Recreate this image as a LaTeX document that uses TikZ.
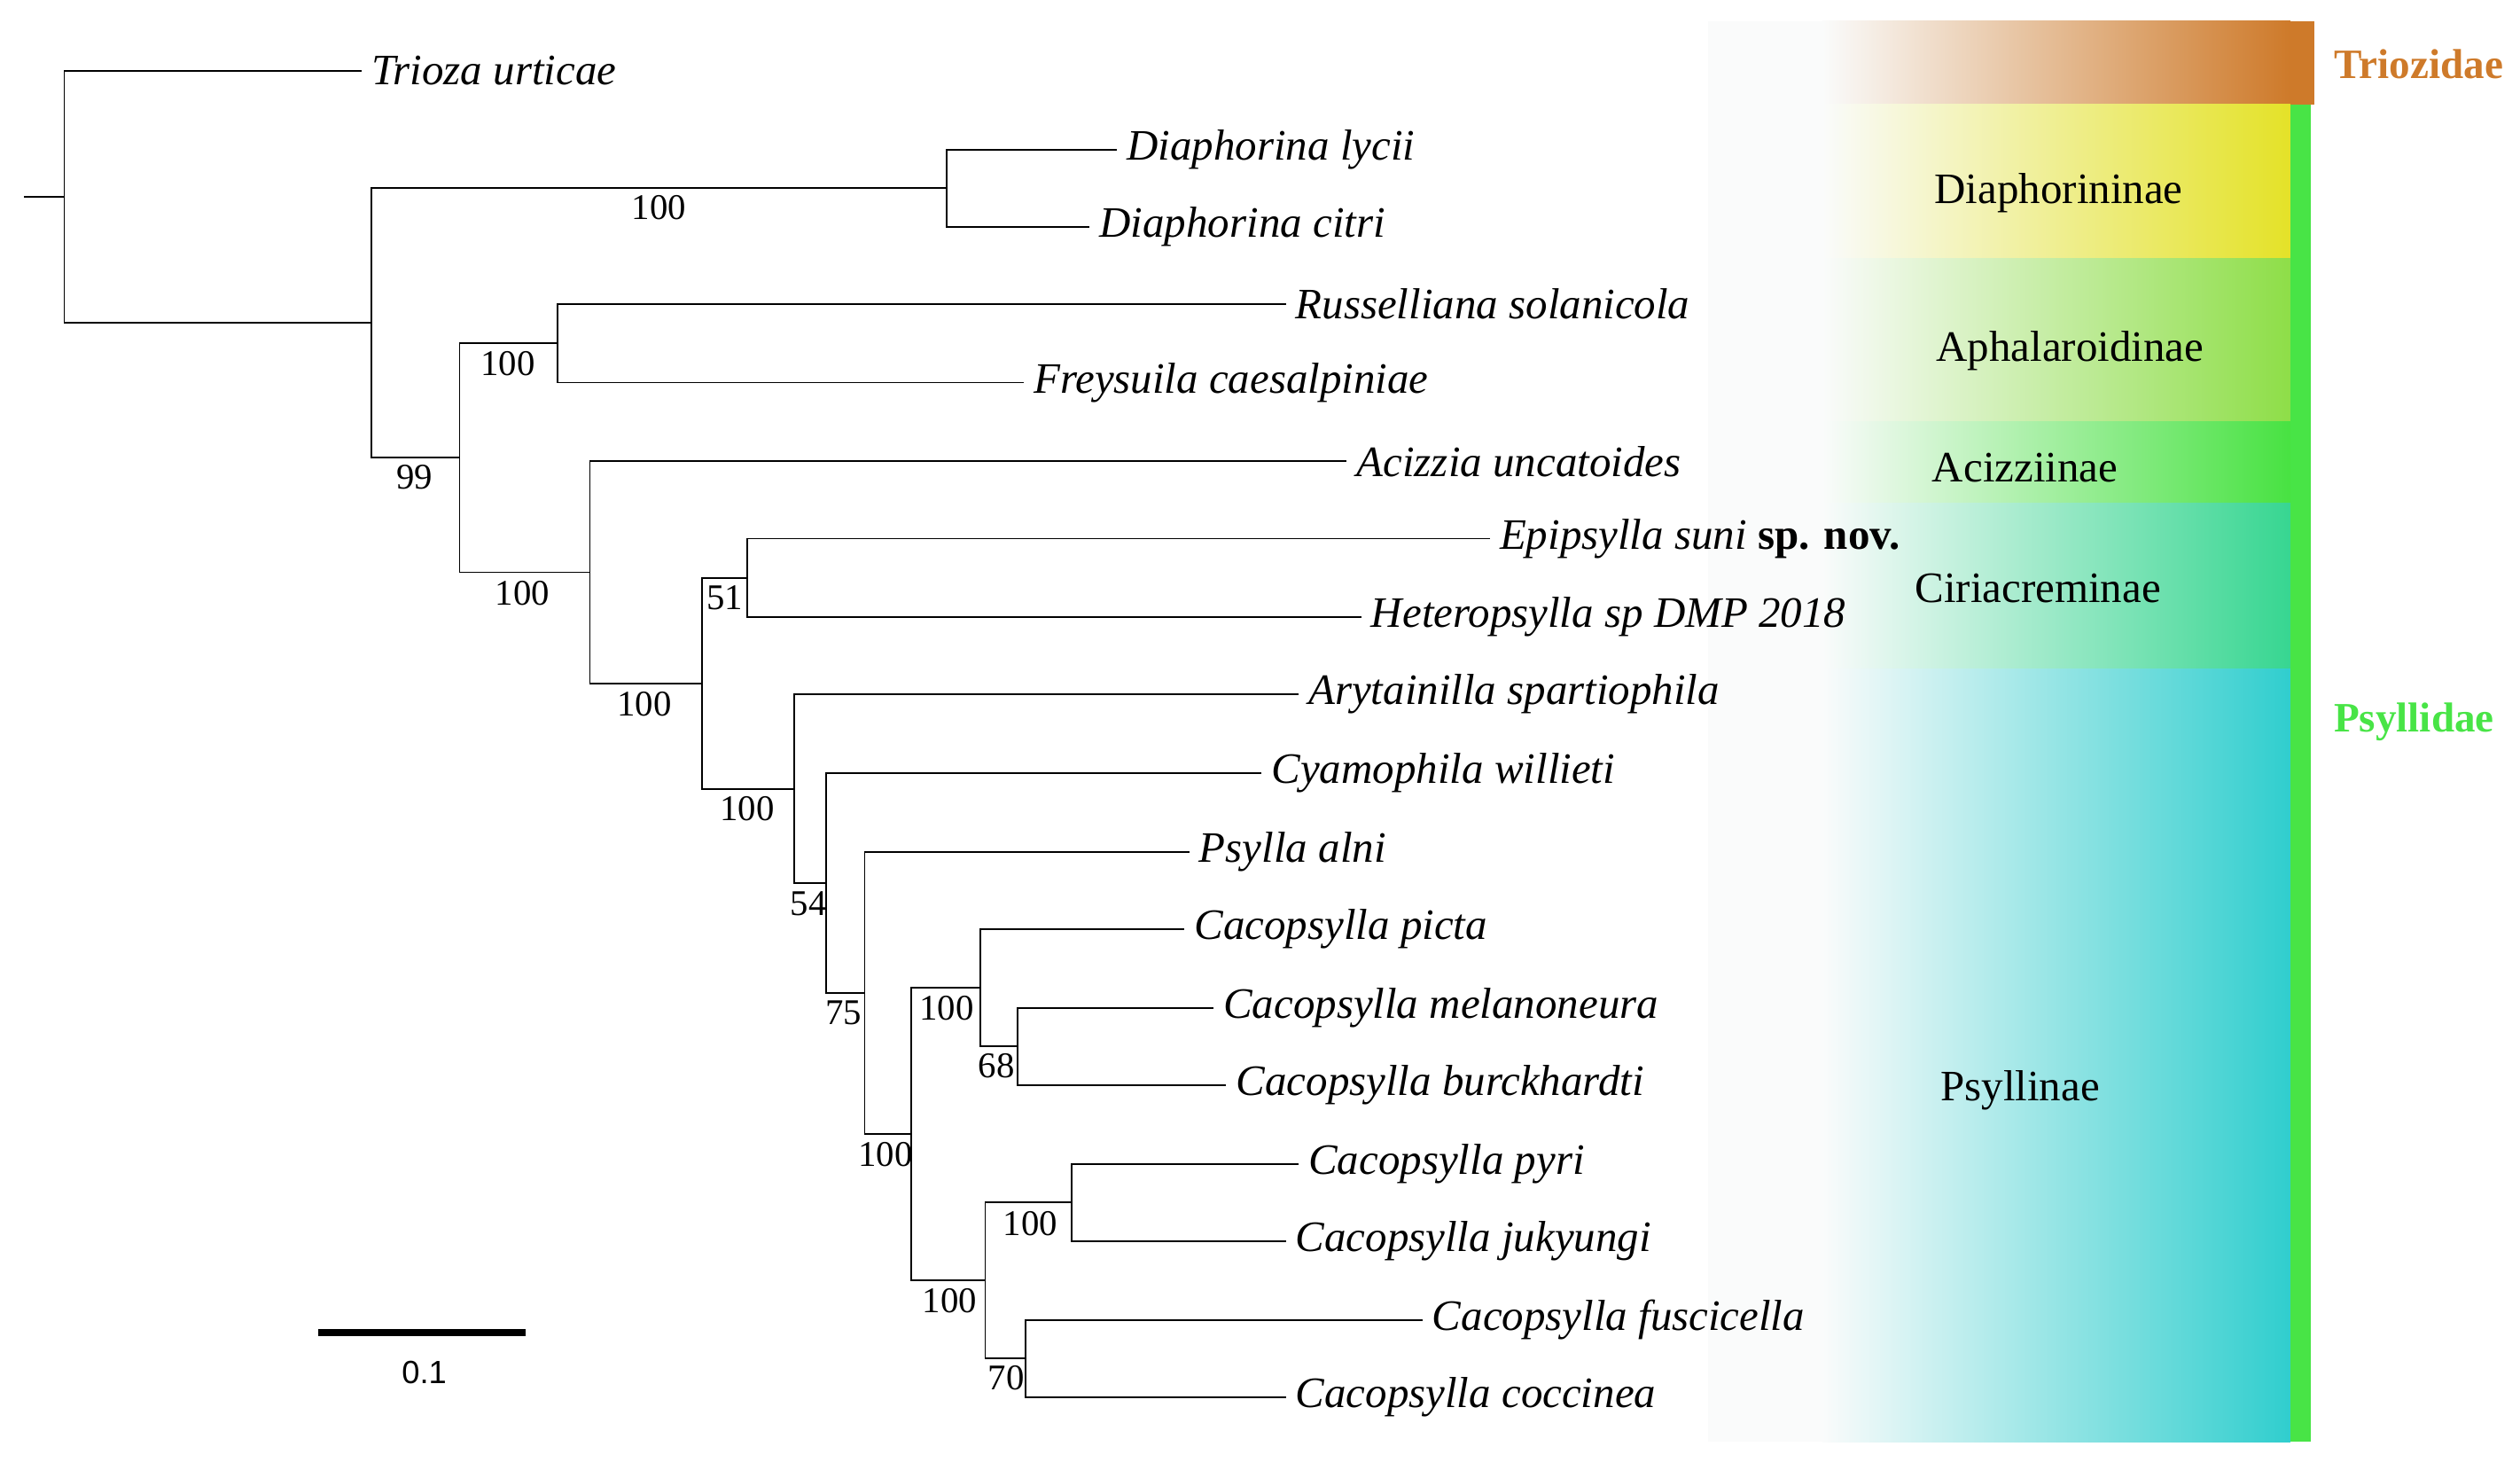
\documentclass[tikz,border=0pt]{standalone}
\usepackage{fontspec}
\setmainfont{Liberation Serif}
\setsansfont{Liberation Sans}
\definecolor{cTrio}{RGB}{206,122,42}
\definecolor{cDia}{RGB}{228,226,40}
\definecolor{cAph}{RGB}{142,222,72}
\definecolor{cAci}{RGB}{72,226,66}
\definecolor{cCiri}{RGB}{55,214,145}
\definecolor{cPsy}{RGB}{48,206,206}
\definecolor{cBar}{RGB}{72,228,70}
\definecolor{cFaint}{RGB}{250,251,251}
\tikzset{
  branch/.style={line width=1pt},
  taxon/.style={anchor=west,inner xsep=6pt,font=\fontsize{27}{30}\selectfont\itshape},
  boot/.style={inner sep=0pt,font=\fontsize{22.5}{25}\selectfont},
  clade/.style={inner sep=0pt,font=\fontsize{27}{30}\selectfont},
  family/.style={inner sep=0pt,font=\fontsize{26}{28}\selectfont\bfseries},
}
\begin{document}
\begin{tikzpicture}[x=1pt,y=1pt,yscale=-1,xscale=1]
\useasboundingbox (0,0) rectangle (1568,914);

%Shape: colour bands
\fill[cFaint] (1063,13) rectangle (1134,897);
\shade[left color=cFaint,right color=cTrio] (1134,13) rectangle (1425,65);
\fill[cTrio] (1425,13) rectangle (1440,65);
\shade[left color=cFaint,right color=cDia] (1134,65) rectangle (1425,161);
\shade[left color=cFaint,right color=cAph] (1134,161) rectangle (1425,262);
\shade[left color=cFaint,right color=cAci] (1134,262) rectangle (1425,313);
\shade[left color=cFaint,right color=cCiri] (1134,313) rectangle (1425,416);
\shade[left color=cFaint,right color=cPsy] (1134,416) rectangle (1425,897);
%Shape: family bar
\fill[cBar] (1425,65) rectangle (1438,897);

% Text Node
\node[clade] (lDia) at (1281,120) {Diaphorininae};
\node[clade] (lAph) at (1288,218) {Aphalaroidinae};
\node[clade] (lAci) at (1260,291) {Acizziinae};
\node[clade] (lCiri) at (1268,366) {Ciriacreminae};
\node[clade] (lPsy) at (1257,678) {Psyllinae};
\node[family,text=cTrio] (fTrio) at (1505,40) {Triozidae};
\node[family,text=cBar] (fPsy) at (1502,449) {Psyllidae};

%Shape: internal nodes
\coordinate (nStub) at (15,122.5);
\coordinate (nRoot) at (40,122.5);
\coordinate (nA) at (231,200.9);
\coordinate (nDia) at (589,117);
\coordinate (nB) at (286,284.8);
\coordinate (nAph) at (347,213.5);
\coordinate (nC) at (367,356);
\coordinate (nD) at (437,425.1);
\coordinate (nE) at (465,359.5);
\coordinate (nF) at (494,490.7);
\coordinate (nG) at (514,549.4);
\coordinate (nH) at (538,617.8);
\coordinate (nI) at (567,705.5);
\coordinate (nJ) at (610,614.5);
\coordinate (nL) at (633,651);
\coordinate (nK) at (613,796.5);
\coordinate (nM) at (667,748);
\coordinate (nN) at (638,845);

% Text Node
\node[taxon] (tUrt) at (225,44) {Trioza urticae};
\node[taxon] (tLyc) at (695,93) {Diaphorina lycii};
\node[taxon] (tCit) at (678,141) {Diaphorina citri};
\node[taxon] (tSol) at (800,189) {Russelliana solanicola};
\node[taxon] (tCae) at (637,238) {Freysuila caesalpiniae};
\node[taxon] (tUnc) at (838,287) {Acizzia uncatoides};
\node[taxon] (tSun) at (927,335) {Epipsylla suni \textbf{\upshape sp. nov.}};
\node[taxon] (tDmp) at (847,384) {Heteropsylla sp DMP 2018};
\node[taxon] (tSpa) at (808,432) {Arytainilla spartiophila};
\node[taxon] (tWil) at (785,481) {Cyamophila willieti};
\node[taxon] (tAln) at (740,530) {Psylla alni};
\node[taxon] (tPic) at (737,578) {Cacopsylla picta};
\node[taxon] (tMel) at (755,627) {Cacopsylla melanoneura};
\node[taxon] (tBur) at (763,675) {Cacopsylla burckhardti};
\node[taxon] (tPyr) at (808,724) {Cacopsylla pyri};
\node[taxon] (tJuk) at (800,772) {Cacopsylla jukyungi};
\node[taxon] (tFus) at (885,821) {Cacopsylla fuscicella};
\node[taxon] (tCoc) at (800,869) {Cacopsylla coccinea};

%Shape: branches
\draw[branch] (nStub) -- (nRoot);
\draw[branch] (nRoot) |- (tUrt.west);
\draw[branch] (nRoot) |- (nA);
\draw[branch] (nA) |- (nDia);
\draw[branch] (nA) |- (nB);
\draw[branch] (nDia) |- (tLyc.west);
\draw[branch] (nDia) |- (tCit.west);
\draw[branch] (nB) |- (nAph);
\draw[branch] (nB) |- (nC);
\draw[branch] (nAph) |- (tSol.west);
\draw[branch] (nAph) |- (tCae.west);
\draw[branch] (nC) |- (tUnc.west);
\draw[branch] (nC) |- (nD);
\draw[branch] (nD) |- (nE);
\draw[branch] (nD) |- (nF);
\draw[branch] (nE) |- (tSun.west);
\draw[branch] (nE) |- (tDmp.west);
\draw[branch] (nF) |- (tSpa.west);
\draw[branch] (nF) |- (nG);
\draw[branch] (nG) |- (tWil.west);
\draw[branch] (nG) |- (nH);
\draw[branch] (nH) |- (tAln.west);
\draw[branch] (nH) |- (nI);
\draw[branch] (nI) |- (nJ);
\draw[branch] (nI) |- (nK);
\draw[branch] (nJ) |- (tPic.west);
\draw[branch] (nJ) |- (nL);
\draw[branch] (nL) |- (tMel.west);
\draw[branch] (nL) |- (tBur.west);
\draw[branch] (nK) |- (nM);
\draw[branch] (nK) |- (nN);
\draw[branch] (nM) |- (tPyr.west);
\draw[branch] (nM) |- (tJuk.west);
\draw[branch] (nN) |- (tFus.west);
\draw[branch] (nN) |- (tCoc.west);

% Text Node
\node[boot] (bDia) at (410,129) {100};
\node[boot] (bAph) at (316,226) {100};
\node[boot] (bB) at (258,297) {99};
\node[boot] (bC) at (325,369) {100};
\node[boot] (bD) at (401,438) {100};
\node[boot] (bE) at (451,372) {51};
\node[boot] (bF) at (465,503) {100};
\node[boot] (bG) at (503,562) {54};
\node[boot] (bH) at (525,630) {75};
\node[boot] (bI) at (551,718) {100};
\node[boot] (bJ) at (589,627) {100};
\node[boot] (bL) at (620,663) {68};
\node[boot] (bM) at (641,761) {100};
\node[boot] (bK) at (591,809) {100};
\node[boot] (bN) at (626,857) {70};

%Shape: scale bar
\coordinate (sL) at (198,829);
\coordinate (sR) at (327,829);
\draw[line width=4.5pt] (sL) -- (sR);
\node[inner sep=0pt,font=\sffamily\fontsize{20}{22}\selectfont] (sLab) at (264,854) {0.1};

\end{tikzpicture}
\end{document}
